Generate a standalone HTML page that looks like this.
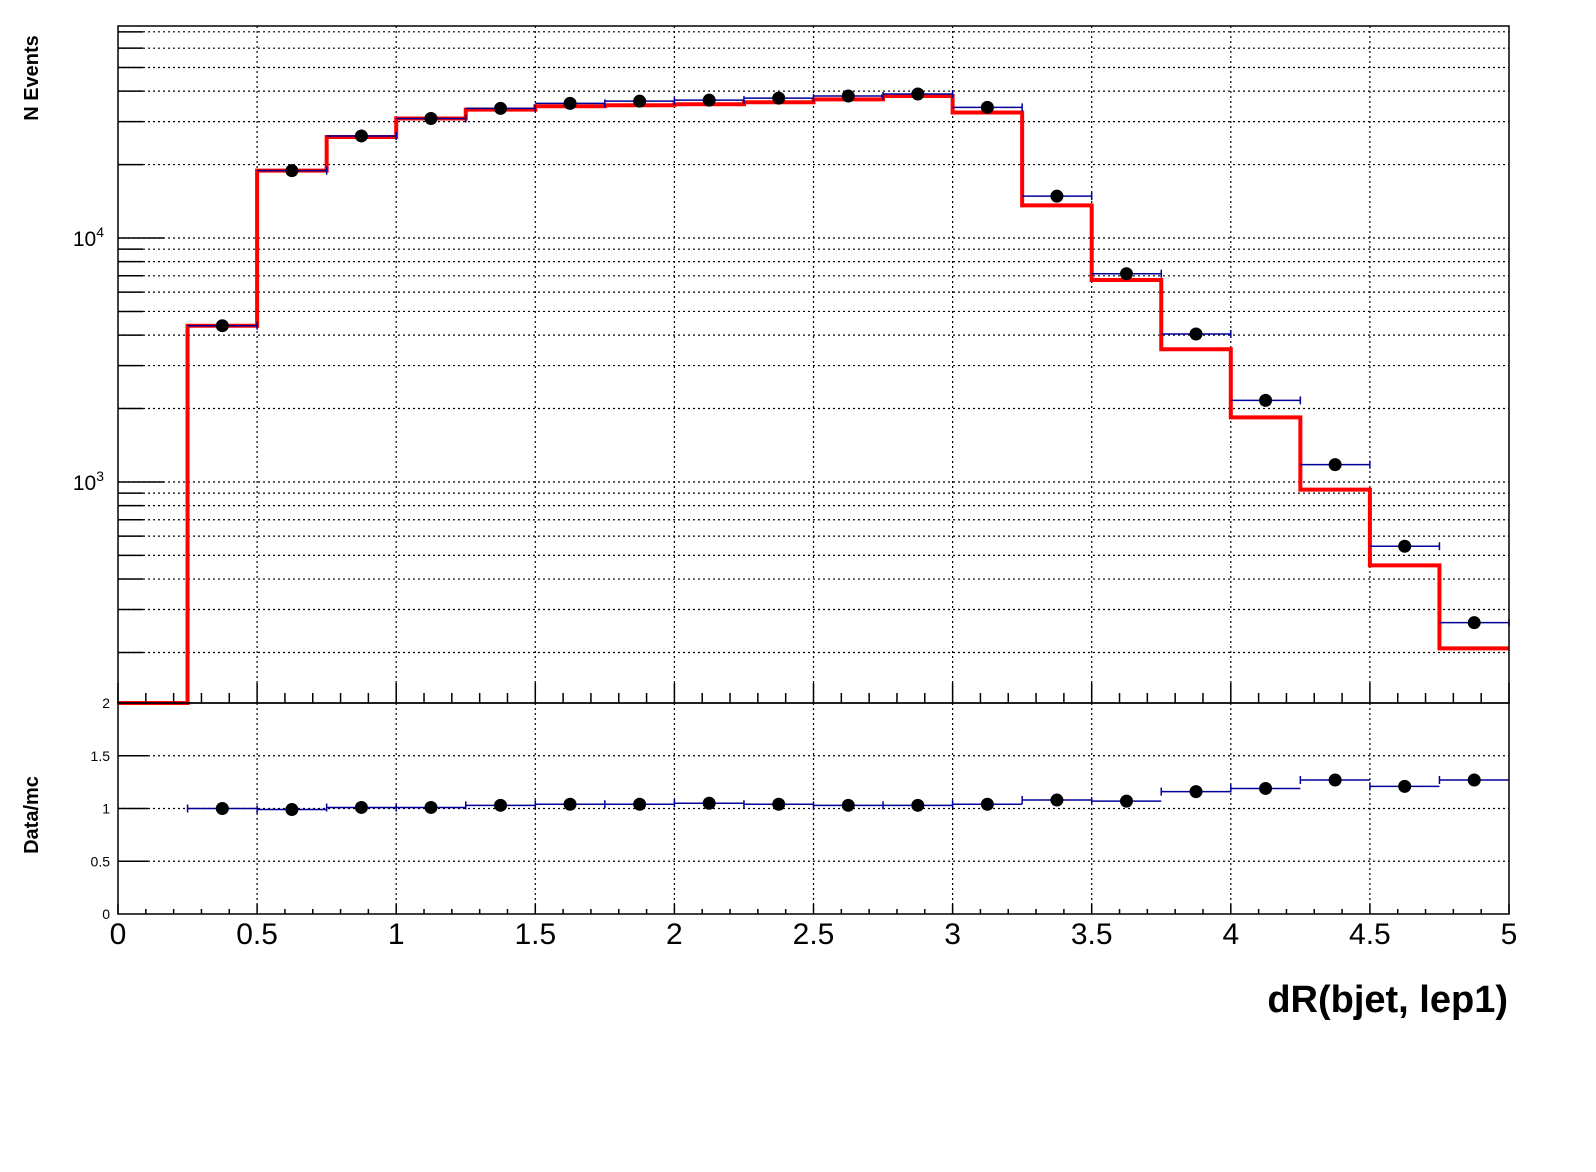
<!DOCTYPE html>
<html><head><meta charset="utf-8"><style>
html,body{margin:0;padding:0;background:#fff;}
svg{display:block;font-family:"Liberation Sans",sans-serif;}
</style></head><body>
<svg id="chart" width="1596" height="1172" viewBox="0 0 1596 1172">
<rect x="0" y="0" width="1596" height="1172" fill="#fff"/>
<g id="grid"></g>
<g id="marks"></g>
<g id="axes"></g>
<text transform="translate(38,78) rotate(-90)" text-anchor="middle" font-weight="bold" font-size="20">N Events</text>
<text transform="translate(38,815) rotate(-90)" text-anchor="middle" font-weight="bold" font-size="20">Data/mc</text>
<text x="1508" y="1012" text-anchor="end" font-weight="bold" font-size="38">dR(bjet, lep1)</text>
</svg>
<script>
const binEdges = [0,0.25,0.5,0.75,1,1.25,1.5,1.75,2,2.25,2.5,2.75,3,3.25,3.5,3.75,4,4.25,4.5,4.75,5];
const mcValues = [0,4370,18880,25950,30900,33600,34660,35000,35340,36000,37000,38200,32700,13600,6730,3500,1840,930,455,208];
const dataValues = [0,4370,18880,26200,30900,33970,35640,36380,36730,37440,38200,38940,34330,14840,7140,4040,2160,1178,545,265];
const ratioValues = [null,1.0,0.99,1.01,1.01,1.03,1.04,1.04,1.05,1.04,1.03,1.03,1.04,1.08,1.07,1.16,1.19,1.27,1.21,1.27];
const xTicks = [0,0.5,1,1.5,2,2.5,3,3.5,4,4.5,5];
const xTickLabels = ["0","0.5","1","1.5","2","2.5","3","3.5","4","4.5","5"];
const ratioTicks = [0,0.5,1,1.5,2];
const ratioTickLabels = ["0","0.5","1","1.5","2"];

const L=118,R=1509,T=26,B=703,RB=914;
const logMin=2.094, logMax=4.869;
function xs(v){return L+(v-0)/(5-0)*(R-L);}
function ys(v){const lv=Math.log10(Math.max(v,1e-9));return B-(lv-logMin)/(logMax-logMin)*(B-T);}
function yr(v){return RB-(v/2)*(RB-B);}
const NS="http://www.w3.org/2000/svg";
function mk(parent,tag,attrs){const e=document.createElementNS(NS,tag);for(const k in attrs)e.setAttribute(k,attrs[k]);parent.appendChild(e);return e;}
const grid=document.getElementById('grid'),marks=document.getElementById('marks'),axes=document.getElementById('axes');
const dot={stroke:"#000","stroke-width":1.2,"stroke-dasharray":"2,3"};

for(let d=2;d<=4;d++){for(let m=1;m<=9;m++){const v=m*Math.pow(10,d);const y=ys(v);if(y<T-0.5||y>B+0.5)continue;
  const g=mk(grid,'line',Object.assign({x1:L,x2:R,y1:y,y2:y},dot));
  
  
  const t=mk(axes,'line',{x1:L,x2:L+(m===1?46:25),y1:y,y2:y,stroke:"#000","stroke-width":1.5});
  
  
  if(m===1){const tx=mk(axes,'text',{x:L-14,y:y+8,"text-anchor":"end","font-size":21});tx.innerHTML=`10<tspan dy="-9" font-size="14">${d}</tspan>`;
    
    }
}}
xTicks.forEach(v=>{if(v===0||v===5)return;const x=xs(v);
  const g=mk(grid,'line',Object.assign({x1:x,x2:x,y1:T,y2:B},dot));
  
  
  const g2=mk(grid,'line',Object.assign({x1:x,x2:x,y1:B,y2:RB},dot));
  
  
});
ratioTicks.forEach((v,i)=>{const y=yr(v);
  if(v>0&&v<2){const g=mk(grid,'line',Object.assign({x1:L,x2:R,y1:y,y2:y},dot));
    
    
    const t=mk(axes,'line',{x1:L,x2:L+30,y1:y,y2:y,stroke:"#000","stroke-width":1.5});
    
    }
  const tx=mk(axes,'text',{x:L-8,y:y+5,"text-anchor":"end","font-size":14});tx.textContent=ratioTickLabels[i];
  
  
});
for(let i=0;i<=50;i++){const v=i*0.1;const x=xs(v);const major=(i%5===0);
  const t=mk(axes,'line',{x1:x,x2:x,y1:B,y2:B-(major?20:10),stroke:"#000","stroke-width":1.5});
  
  
  const t2=mk(axes,'line',{x1:x,x2:x,y1:RB,y2:RB-(major?10:5),stroke:"#000","stroke-width":1.5});
  
  
}
xTicks.forEach((v,i)=>{const tx=mk(axes,'text',{x:xs(v),y:944,"text-anchor":"middle","font-size":30});tx.textContent=xTickLabels[i];
  
  });

let d="";
for(let i=0;i<mcValues.length;i++){const y=mcValues[i]>0?ys(mcValues[i]):B;const y2=Math.min(y,B);
  d+=(i===0?`M${xs(binEdges[0])},${y2}`:`L${xs(binEdges[i])},${y2}`)+`L${xs(binEdges[i+1])},${y2}`;}
const mc=mk(marks,'path',{d:d,fill:"none",stroke:"#ff0000","stroke-width":4});



for(let i=0;i<dataValues.length;i++){if(!(dataValues[i]>0))continue;
  const xc=xs((binEdges[i]+binEdges[i+1])/2),y=ys(dataValues[i]);
  const e=mk(marks,'path',{d:`M${xs(binEdges[i])},${y}H${xs(binEdges[i+1])}M${xs(binEdges[i+1])},${y-4}V${y+4}`,stroke:"#000099","stroke-width":1.5,fill:"none"});
  
  
  const c=mk(marks,'circle',{cx:xc,cy:y,r:6.5,fill:"#000"});
  
  
}
for(let i=0;i<ratioValues.length;i++){if(ratioValues[i]==null)continue;
  const xc=xs((binEdges[i]+binEdges[i+1])/2),y=yr(ratioValues[i]);
  const e=mk(marks,'path',{d:`M${xs(binEdges[i])},${y}H${xs(binEdges[i+1])}M${xs(binEdges[i])},${y-4}V${y+4}`,stroke:"#000099","stroke-width":1.5,fill:"none"});
  
  
  const c=mk(marks,'circle',{cx:xc,cy:y,r:6.5,fill:"#000"});
  
  
}
const f1=mk(axes,'rect',{x:L,y:T,width:R-L,height:B-T,fill:"none",stroke:"#000","stroke-width":1.5});


const f2=mk(axes,'rect',{x:L,y:B,width:R-L,height:RB-B,fill:"none",stroke:"#000","stroke-width":1.5});


</script>
</body></html>
